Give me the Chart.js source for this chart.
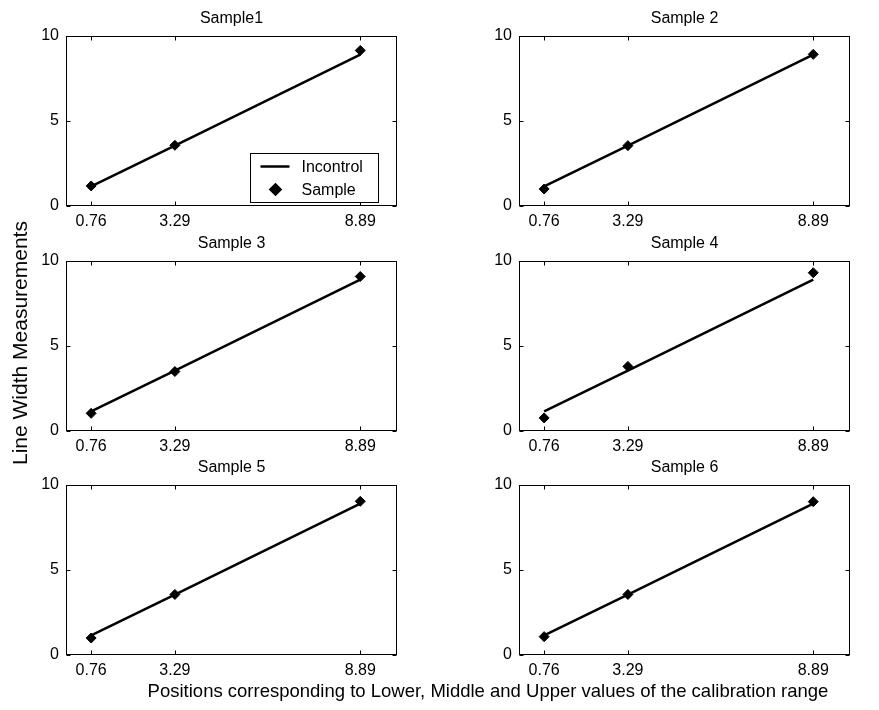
<!DOCTYPE html>
<html>
<head>
<meta charset="utf-8">
<script src="https://cdn.jsdelivr.net/npm/chart.js@4.4.1/dist/chart.umd.min.js"></script>
<style>
  html, body { margin: 0; padding: 0; background: #fff; }
  body { width: 879px; height: 710px; position: relative; overflow: hidden;
         font-family: "Liberation Sans", Arial, sans-serif; color: #000; }
  canvas.panel { position: absolute; }
  #ylabel { position: absolute; left: 20px; top: 343px; transform: translate(-50%, -50%) rotate(-90deg);
            font-size: 21px; white-space: nowrap; }
  #xlabel { position: absolute; left: 488px; top: 691px; transform: translate(-50%, -50%);
            font-size: 18.5px; white-space: nowrap; }
</style>
</head>
<body>
<canvas class="panel" id="p0"></canvas>
<canvas class="panel" id="p1"></canvas>
<canvas class="panel" id="p2"></canvas>
<canvas class="panel" id="p3"></canvas>
<canvas class="panel" id="p4"></canvas>
<canvas class="panel" id="p5"></canvas>
<div id="ylabel">Line Width Measurements</div>
<div id="xlabel">Positions corresponding to Lower, Middle and Upper values of the calibration range</div>
<script>
// Calibration positions (x) and tick labels
const positions = [0.76, 3.29, 8.89];
const xTicks = [0.76, 3.29, 8.89];
const yTicks = [0, 5, 10];

// Reference (in-control) line
const incontrol = [1.15, 3.55, 8.9];

// Measured line widths for each sample
const sample1 = [1.18, 3.57, 9.15];
const sample2 = [1.00, 3.55, 8.92];
const sample3 = [1.04, 3.50, 9.09];
const sample4 = [0.77, 3.80, 9.31];
const sample5 = [1.00, 3.56, 9.04];
const sample6 = [1.08, 3.56, 9.02];

const panelTitles = ['Sample1', 'Sample 2', 'Sample 3', 'Sample 4', 'Sample 5', 'Sample 6'];
const samples = [sample1, sample2, sample3, sample4, sample5, sample6];

const FONT = '"Liberation Sans", Arial, sans-serif';
const PLOT_W = 331, PLOT_H = 170;
const AXIS_W = 50, TITLE_H = 36, XAXIS_H = 28, RIGHT_PAD = 10;
const colLeft = [66, 519];
const rowTop = [36, 260.7, 485.3];

// Box around the plot area with inward tick marks on all four sides
const framePlugin = {
  id: 'frame',
  afterDraw(chart) {
    const { ctx, chartArea: a, scales } = chart;
    ctx.save();
    ctx.strokeStyle = '#000';
    ctx.lineWidth = 1;
    const L = Math.round(a.left) + 0.5, R = Math.round(a.right) - 0.5;
    const T = Math.round(a.top) + 0.5, B = Math.round(a.bottom) - 0.5;
    ctx.strokeRect(L, T, R - L, B - T);
    ctx.beginPath();
    scales.x.ticks.forEach(t => {
      const px = Math.round(scales.x.getPixelForValue(t.value)) + 0.5;
      ctx.moveTo(px, B); ctx.lineTo(px, B - 4);
      ctx.moveTo(px, T); ctx.lineTo(px, T + 4);
    });
    scales.y.ticks.forEach(t => {
      const py = Math.round(scales.y.getPixelForValue(t.value)) + 0.5;
      ctx.moveTo(L, py); ctx.lineTo(L + 4, py);
      ctx.moveTo(R, py); ctx.lineTo(R - 4, py);
    });
    ctx.stroke();
    ctx.restore();
  }
};

// Panel title centred over the plot area
const titlePlugin = {
  id: 'panelTitle',
  afterDraw(chart, args, opts) {
    const { ctx, chartArea: a } = chart;
    ctx.save();
    ctx.fillStyle = '#000';
    ctx.font = '16px ' + FONT;
    ctx.textAlign = 'center';
    ctx.textBaseline = 'middle';
    ctx.fillText(opts.text, (a.left + a.right) / 2, a.top - 17);
    ctx.restore();
  }
};

// Boxed legend inside the lower-right corner of the plot area
const boxLegendPlugin = {
  id: 'boxLegend',
  afterDraw(chart, args, opts) {
    if (!opts.show) return;
    const { ctx, chartArea: a } = chart;
    const ds = chart.data.datasets;
    const line = ds.find(d => d.showLine);
    const pts = ds.find(d => !d.showLine);
    const w = 128, h = 49;
    const x = Math.round(a.right - 19 - w) + 0.5, y = Math.round(a.bottom - 4 - h) + 0.5;
    ctx.save();
    ctx.fillStyle = '#fff';
    ctx.fillRect(x, y, w, h);
    ctx.strokeStyle = '#000';
    ctx.lineWidth = 1;
    ctx.strokeRect(x, y, w, h);
    // line entry
    ctx.lineWidth = line.borderWidth;
    ctx.beginPath();
    ctx.moveTo(x + 10, y + 13); ctx.lineTo(x + 39, y + 13);
    ctx.stroke();
    // marker entry
    Chart.helpers.drawPoint(ctx, { pointStyle: pts.pointStyle, radius: pts.pointRadius, borderWidth: 1 }, x + 25, y + 36);
    ctx.fillStyle = '#000';
    ctx.fill();
    ctx.font = '16px ' + FONT;
    ctx.textAlign = 'left';
    ctx.textBaseline = 'middle';
    ctx.fillText(line.label, x + 51, y + 14);
    ctx.fillText(pts.label, x + 51, y + 37);
    ctx.restore();
  }
};

function makePanel(i) {
  const r = Math.floor(i / 2), c = i % 2;
  const cv = document.getElementById('p' + i);
  cv.width = AXIS_W + PLOT_W + RIGHT_PAD;
  cv.height = TITLE_H + PLOT_H + XAXIS_H;
  cv.style.left = (colLeft[c] - AXIS_W) + 'px';
  cv.style.top = (rowTop[r] - TITLE_H) + 'px';

  new Chart(cv, {
    type: 'scatter',
    data: {
      datasets: [
        {
          label: 'Incontrol',
          data: positions.map((x, k) => ({ x, y: incontrol[k] })),
          showLine: true,
          borderColor: '#000',
          borderWidth: 2.5,
          pointRadius: 0,
          fill: false,
          order: 1
        },
        {
          label: 'Sample',
          data: positions.map((x, k) => ({ x, y: samples[i][k] })),
          showLine: false,
          pointStyle: 'rectRot',
          pointRadius: 5,
          backgroundColor: '#000',
          borderColor: '#000',
          borderWidth: 1,
          order: 0
        }
      ]
    },
    options: {
      responsive: false,
      animation: false,
      devicePixelRatio: 1,
      events: [],
      layout: { padding: { top: TITLE_H, right: RIGHT_PAD, left: 0, bottom: 0 } },
      plugins: {
        legend: { display: false },
        tooltip: { enabled: false },
        title: { display: false },
        panelTitle: { text: panelTitles[i] },
        boxLegend: { show: i === 0 }
      },
      scales: {
        x: {
          type: 'linear', min: 0, max: 10,
          afterBuildTicks: s => { s.ticks = xTicks.map(v => ({ value: v })); },
          afterFit: s => { s.height = XAXIS_H; },
          grid: { display: false, drawTicks: false },
          border: { display: false },
          ticks: { color: '#000', font: { size: 16, family: FONT }, padding: 6,
                   maxRotation: 0, autoSkip: false, callback: v => String(v) }
        },
        y: {
          type: 'linear', min: 0, max: 10,
          afterBuildTicks: s => { s.ticks = yTicks.map(v => ({ value: v })); },
          afterFit: s => { s.width = AXIS_W; },
          grid: { display: false, drawTicks: false },
          border: { display: false },
          ticks: { color: '#000', font: { size: 16, family: FONT }, padding: 7,
                   autoSkip: false, callback: v => String(v) }
        }
      }
    },
    plugins: [framePlugin, titlePlugin, boxLegendPlugin]
  });
}

for (let i = 0; i < 6; i++) makePanel(i);
</script>
</body>
</html>
